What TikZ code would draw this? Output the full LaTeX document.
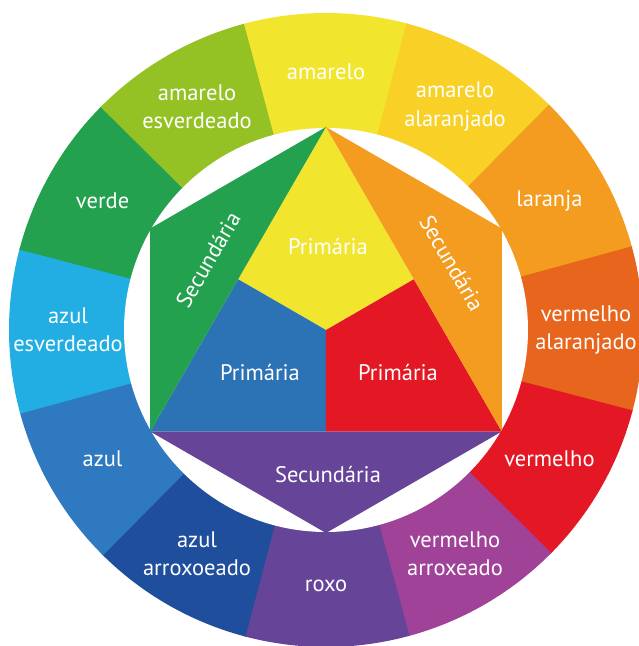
\documentclass[tikz,border=0pt]{standalone}
\usepackage{fontspec}
\setmainfont{PT Sans}

\definecolor{amarelo}{RGB}{242,229,46}
\definecolor{amareloalaranjado}{RGB}{249,208,38}
\definecolor{laranja}{RGB}{243,156,32}
\definecolor{vermelhoalaranjado}{RGB}{232,101,30}
\definecolor{vermelho}{RGB}{228,24,36}
\definecolor{vermelhoarroxeado}{RGB}{160,66,152}
\definecolor{roxo}{RGB}{102,68,152}
\definecolor{azularroxoeado}{RGB}{30,78,156}
\definecolor{azul}{RGB}{46,121,192}
\definecolor{azulesverdeado}{RGB}{34,174,227}
\definecolor{verde}{RGB}{35,161,78}
\definecolor{amareloesverdeado}{RGB}{148,193,36}

\begin{document}
\begin{tikzpicture}[x=0.025cm,y=0.025cm,
    cor/.style={text=white,align=center,font=\fontsize{16}{20}\selectfont}]
      \useasboundingbox (-326,-316) rectangle (313,330);
      % ring of twelve colours
      \fill[amarelo] (0,0) -- (75:317) arc[start angle=75,end angle=105.3,radius=317] -- cycle;
      \fill[amareloalaranjado] (0,0) -- (45:317) arc[start angle=45,end angle=75.3,radius=317] -- cycle;
      \fill[laranja] (0,0) -- (15:317) arc[start angle=15,end angle=45.3,radius=317] -- cycle;
      \fill[vermelhoalaranjado] (0,0) -- (-15:317) arc[start angle=-15,end angle=15.3,radius=317] -- cycle;
      \fill[vermelho] (0,0) -- (-45:317) arc[start angle=-45,end angle=-14.7,radius=317] -- cycle;
      \fill[vermelhoarroxeado] (0,0) -- (-75:317) arc[start angle=-75,end angle=-44.7,radius=317] -- cycle;
      \fill[roxo] (0,0) -- (-105:317) arc[start angle=-105,end angle=-74.7,radius=317] -- cycle;
      \fill[azularroxoeado] (0,0) -- (-135:317) arc[start angle=-135,end angle=-104.7,radius=317] -- cycle;
      \fill[azul] (0,0) -- (-165:317) arc[start angle=-165,end angle=-134.7,radius=317] -- cycle;
      \fill[azulesverdeado] (0,0) -- (165:317) arc[start angle=165,end angle=195.3,radius=317] -- cycle;
      \fill[verde] (0,0) -- (135:317) arc[start angle=135,end angle=165.3,radius=317] -- cycle;
      \fill[amareloesverdeado] (0,0) -- (105:317) arc[start angle=105,end angle=135.3,radius=317] -- cycle;
      \fill[white] (0,0) circle (202);
      % hexagon
      \coordinate (T) at (90:203);
      \coordinate (TR) at (30:203);
      \coordinate (BR) at (-30:203);
      \coordinate (B) at (-90:203);
      \coordinate (BL) at (-150:203);
      \coordinate (TL) at (150:203);
      \coordinate (O) at (0,0);
      \coordinate (mL) at (150:101.5);
      \coordinate (mR) at (30:101.5);
      \coordinate (mB) at (-90:101.5);
      \fill[amarelo] (T) -- (mL) -- (O) -- (mR) -- cycle;
      \fill[azul!95!black] (mL) -- (O) -- (mB) -- (BL) -- cycle;
      \fill[vermelho] (O) -- (mR) -- (BR) -- (mB) -- cycle;
      \fill[verde] (TL) -- (T) -- (BL) -- cycle;
      \fill[laranja] (T) -- (TR) -- (BR) -- cycle;
      \fill[roxo] (BL) -- (BR) -- (B) -- cycle;
      \node[cor] (p1) at (2,84) {Primária};
      \node[cor] (p2) at (-66,-42) {Primária};
      \node[cor] (p3) at (72,-42) {Primária};
      \node[cor,rotate=60] (s1) at (-118,70) {Secundária};
      \node[cor,rotate=-60] (s2) at (126,67) {Secundária};
      \node[cor] (s3) at (2,-145) {Secundária};
      % names on the ring
      \node[cor] (c1) at (90:258) {amarelo};
      \node[cor] (c2) at (60:258) {amarelo\\alaranjado};
      \node[cor] (c3) at (30:258) {laranja};
      \node[cor] (c4) at (0:260) {vermelho\\alaranjado};
      \node[cor] (c5) at (-30:258) {vermelho};
      \node[cor] (c6) at (-60:258) {vermelho\\arroxeado};
      \node[cor] (c7) at (-90:256) {roxo};
      \node[cor] (c8) at (-120:258) {azul\\arroxoeado};
      \node[cor] (c9) at (-150:258) {azul};
      \node[cor] (c10) at (180:258) {azul\\esverdeado};
      \node[cor] (c11) at (150:258) {verde};
      \node[cor] (c12) at (120:258) {amarelo\\esverdeado};
    \end{tikzpicture}
\end{document}
